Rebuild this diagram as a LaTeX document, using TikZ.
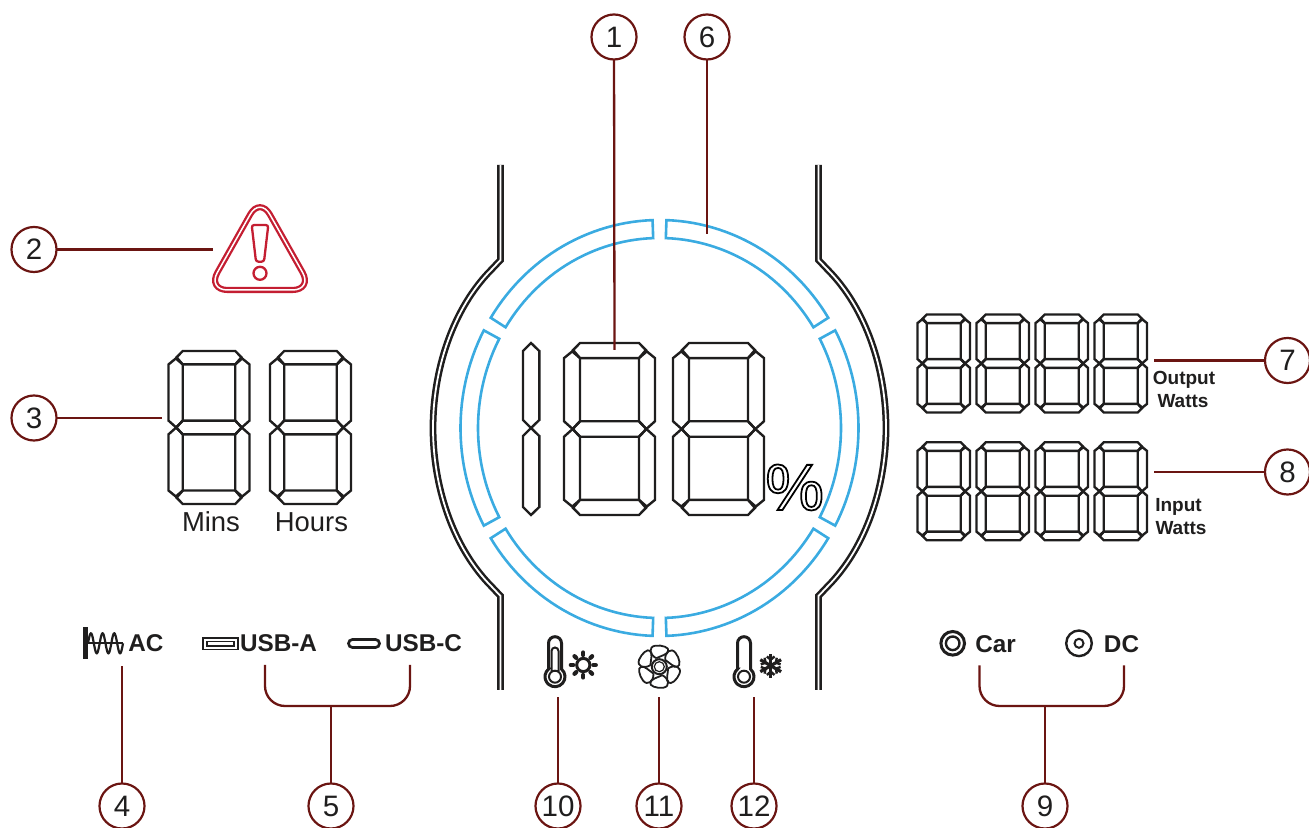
\documentclass[tikz,border=0pt]{standalone}
\usepackage{fontspec}
\setmainfont{Liberation Sans}
\definecolor{leadred}{HTML}{6B1512}
\definecolor{ringblue}{HTML}{3AABE1}
\definecolor{warnred}{HTML}{C41E32}
\definecolor{lcdblack}{HTML}{1F1E1E}
% one seven-segment digit: left, top, width, height
\newcommand{\lcddigit}[4]{%
\begin{scope}[shift={(#1,#2)},xscale=#3,yscale=#4]
\draw[lcdseg] (.176,0) -- (.824,0) -- (.9,.041) -- (.824,.088) -- (.176,.088) -- (.1,.041) -- cycle;
\draw[lcdseg] (.176,1) -- (.824,1) -- (.9,.959) -- (.824,.912) -- (.176,.912) -- (.1,.959) -- cycle;
\draw[lcdseg] (.095,.5) -- (.176,.455) -- (.824,.455) -- (.905,.5) -- (.824,.545) -- (.176,.545) -- cycle;
\draw[lcdseg] (0,.088) -- (.09,.049) -- (.176,.088) -- (.176,.455) -- (.095,.5) -- (0,.455) -- cycle;
\draw[lcdseg] (1,.088) -- (.91,.049) -- (.824,.088) -- (.824,.455) -- (.905,.5) -- (1,.455) -- cycle;
\draw[lcdseg] (0,.912) -- (.09,.951) -- (.176,.912) -- (.176,.545) -- (.095,.5) -- (0,.545) -- cycle;
\draw[lcdseg] (1,.912) -- (.91,.951) -- (.824,.912) -- (.824,.545) -- (.905,.5) -- (1,.545) -- cycle;
\end{scope}}
% thermometer outline: centre of the bulb
\newcommand{\thermo}[2]{%
\draw[icon,line width=.03cm] (#1-6.5,#2-7.6) -- (#1-6.5,#2-33.5) arc[start angle=180,end angle=360,radius=6.5]
 -- (#1+6.5,#2-7.6) arc[start angle=-49.5,end angle=229.5,radius=10] -- cycle;
\draw[icon] (#1,#2) circle (6);}
\begin{document}
\begin{tikzpicture}[x=.01cm,y=-.01cm,inner sep=0pt,outer sep=0pt,
callout/.style={draw=leadred,circle,line width=.022cm,minimum size=.45cm,font=\fontsize{8.4}{10}\selectfont,text=lcdblack},
leader/.style={draw=leadred,line width=.023cm},
bracket/.style={leader,rounded corners=.2cm},
lcdseg/.style={draw=lcdblack,line width=.024cm,line join=miter},
ringseg/.style={draw=ringblue,line width=.026cm,line join=miter},
bezel/.style={draw=lcdblack,line width=.025cm,double=white,double distance=.018cm},
icon/.style={draw=lcdblack,line width=.02cm},
warn/.style={draw=warnred,line width=.023cm},
lcdlabel/.style={font=\fontsize{7.8}{9}\selectfont,text=lcdblack},
portlabel/.style={font=\fontsize{6.9}{8}\selectfont\bfseries,text=lcdblack},
wattlabel/.style={font=\fontsize{5.4}{6}\selectfont\bfseries,text=lcdblack}]
\useasboundingbox (0,0) rectangle (1309,828);
% bezel
\draw[bezel] (500.5,165) -- (500.5,260) -- (492,269) .. controls (452,309) and (433,371) .. (433,428)
 .. controls (433,485) and (452,547) .. (492,587) -- (500.5,596) -- (500.5,690);
\draw[bezel] (818.5,165) -- (818.5,260) -- (827,269) .. controls (867,309) and (886,371) .. (886,428)
 .. controls (886,485) and (867,547) .. (827,587) -- (818.5,596) -- (818.5,690);
% battery ring
\foreach \a/\b in {92/148,152/208,212/268,272/328,332/388,32/88}
 \draw[ringseg] plot[domain=\a:\b,samples=30] ({659.5+199*cos(\x)},{428-208*sin(\x)})
 -- plot[domain=\b:\a,samples=30] ({659.5+181.5*cos(\x)},{428-190*sin(\x)}) -- cycle;
% digits
\draw[lcdseg] (531,343) -- (539.3,351) -- (539.3,420) -- (531,428) -- (523,420) -- (523,351) -- cycle;
\draw[lcdseg] (531,515) -- (539.3,507) -- (539.3,436) -- (531,428) -- (523,436) -- (523,507) -- cycle;
\foreach \xd in {564,673} \lcddigit{\xd}{343}{91}{172};
\foreach \xd in {168.5,270} \lcddigit{\xd}{351}{81}{153};
\foreach \xd in {917.5,976.5,1035.5,1094.5} {
 \lcddigit{\xd}{314.5}{52.5}{98};
 \lcddigit{\xd}{442.3}{52.5}{98};
}
\draw (794.7,487.5) node (percent) {\special{pdf:code q 1 Tr 0.5 w}\fontsize{18.7}{20}\selectfont\%\special{pdf:code Q}};
% warning sign
\draw[warn,double=white,double distance=.015cm,rounded corners=.2cm] (260,197) -- (312.5,290) -- (207.5,290) -- cycle;
\draw[warn,rounded corners=.025cm] (251.7,225) -- (268.3,225) -- (264,261.7) -- (256,261.7) -- cycle;
\draw[warn] (260,273.3) circle (6.5);
% labels
\draw (211,522) node[lcdlabel] (mins) {Mins};
\draw (311.5,522) node[lcdlabel] (hours) {Hours};
\draw (146,643.5) node[portlabel] (ac) {AC};
\draw (278.5,643.5) node[portlabel] (usba) {USB-A};
\draw (423.5,643.5) node[portlabel] (usbc) {USB-C};
\draw (995.5,644) node[portlabel] (car) {Car};
\draw (1121.5,644) node[portlabel] (dc) {DC};
\draw (1184,379.5) node[wattlabel] (outa) {Output};
\draw (1183,401.5) node[wattlabel] (outb) {Watts};
\draw (1178.5,507) node[wattlabel] (ina) {Input};
\draw (1181,528) node[wattlabel] (inb) {Watts};
% port icons
\fill[lcdblack] (82.5,627.5) rectangle (88,659);
\draw[icon,line width=.024cm] (88,643.3) -- (123,643.3);
\draw[icon,line width=.022cm] plot[domain=0:1080,samples=90] ({88+\x/1080*35},{643.3-10*sin(\x)});
\draw[icon,double=white,double distance=.02cm,line width=.017cm] (205,639.8) rectangle (236,647.8);
\draw[icon,line width=.027cm] (352.5,639.5) -- (375.5,639.5) arc[start angle=270,end angle=450,radius=4] -- (352.5,647.5) arc[start angle=90,end angle=270,radius=4] -- cycle;
\draw[icon,line width=.03cm] (952.7,643.3) circle (11.8);
\draw[icon,line width=.024cm] (952.7,643.3) circle (6.8);
\draw[icon,line width=.024cm] (1079,643.3) circle (12.8);
\draw[icon] (1079,643.3) circle (4.5);
% temperature and fan icons
\thermo{555}{676.7}
\draw[icon] (551.5,671) -- (551.5,651) arc[start angle=180,end angle=360,radius=3.5] -- (558.5,671);
\thermo{744}{676.7}
\draw[icon,line width=.03cm] (583.3,665) circle (6.6);
\foreach \a in {0,45,...,315}
 \draw[icon,line width=.042cm,line cap=round] (583.3,665) ++(\a:10) -- ++(\a:2.5);
\foreach \a in {30,90,...,330} {
 \draw[icon,line width=.032cm] (770.7,665.7) -- ++(\a:12);
 \draw[icon,line width=.024cm] (770.7,665.7) ++(\a:6) -- ++(\a+50:5);
 \draw[icon,line width=.024cm] (770.7,665.7) ++(\a:6) -- ++(\a-50:5);
}
\draw[icon] (659.3,666.7) circle (7.5);
\draw[icon,line width=.012cm] (659.3,666.7) circle (5);
\foreach \a in {0,60,...,300} {
\begin{scope}[shift={(659.3,666.7)},rotate=\a]
\draw[icon,line width=.018cm] (-3,-8.5) .. controls (-10,-12) and (-11,-20) .. (-4,-21) .. controls (3,-22) and (10,-19) .. (9,-16) .. controls (8,-12) and (2,-11) .. (-3,-8.5);
\end{scope}}
% callouts
\draw (614,37) node[callout] (call1) {1};
\draw (707,37) node[callout] (call6) {6};
\draw (34,249.5) node[callout] (call2) {2};
\draw (34,418) node[callout] (call3) {3};
\draw (1287.5,360.5) node[callout] (call7) {7};
\draw (1287.5,472) node[callout] (call8) {8};
\draw (122,806) node[callout] (call4) {4};
\draw (331,806) node[callout] (call5) {5};
\draw (558,806) node[callout] (call10) {10};
\draw (659,806) node[callout] (call11) {11};
\draw (754,806) node[callout] (call12) {12};
\draw (1045,806) node[callout] (call9) {9};
\coordinate (end1) at (614.5,350);
\coordinate (end6) at (707,234);
\coordinate (end2) at (213,249.5);
\coordinate (end3) at (162,418);
\coordinate (end7) at (1154,360.5);
\coordinate (end8) at (1154,472);
\coordinate (end4) at (122,666);
\coordinate (end10) at (558,697);
\coordinate (end11) at (659,697);
\coordinate (end12) at (754,697);
\coordinate (usbl) at (265,665);
\coordinate (usbr) at (410,665);
\coordinate (usbm) at (331,706);
\coordinate (dcl) at (979.5,665.5);
\coordinate (dcr) at (1124,665.5);
\coordinate (dcm) at (1045,706);
\foreach \nn in {1,2,3,4,6,7,8,10,11,12} \draw[leader] (call\nn) -- (end\nn);
\draw[bracket] (usbl) -- (usbl|-usbm) -- (usbr|-usbm) -- (usbr);
\draw[leader] (call5) -- (usbm);
\draw[bracket] (dcl) -- (dcl|-dcm) -- (dcr|-dcm) -- (dcr);
\draw[leader] (call9) -- (dcm);
\end{tikzpicture}
\end{document}
